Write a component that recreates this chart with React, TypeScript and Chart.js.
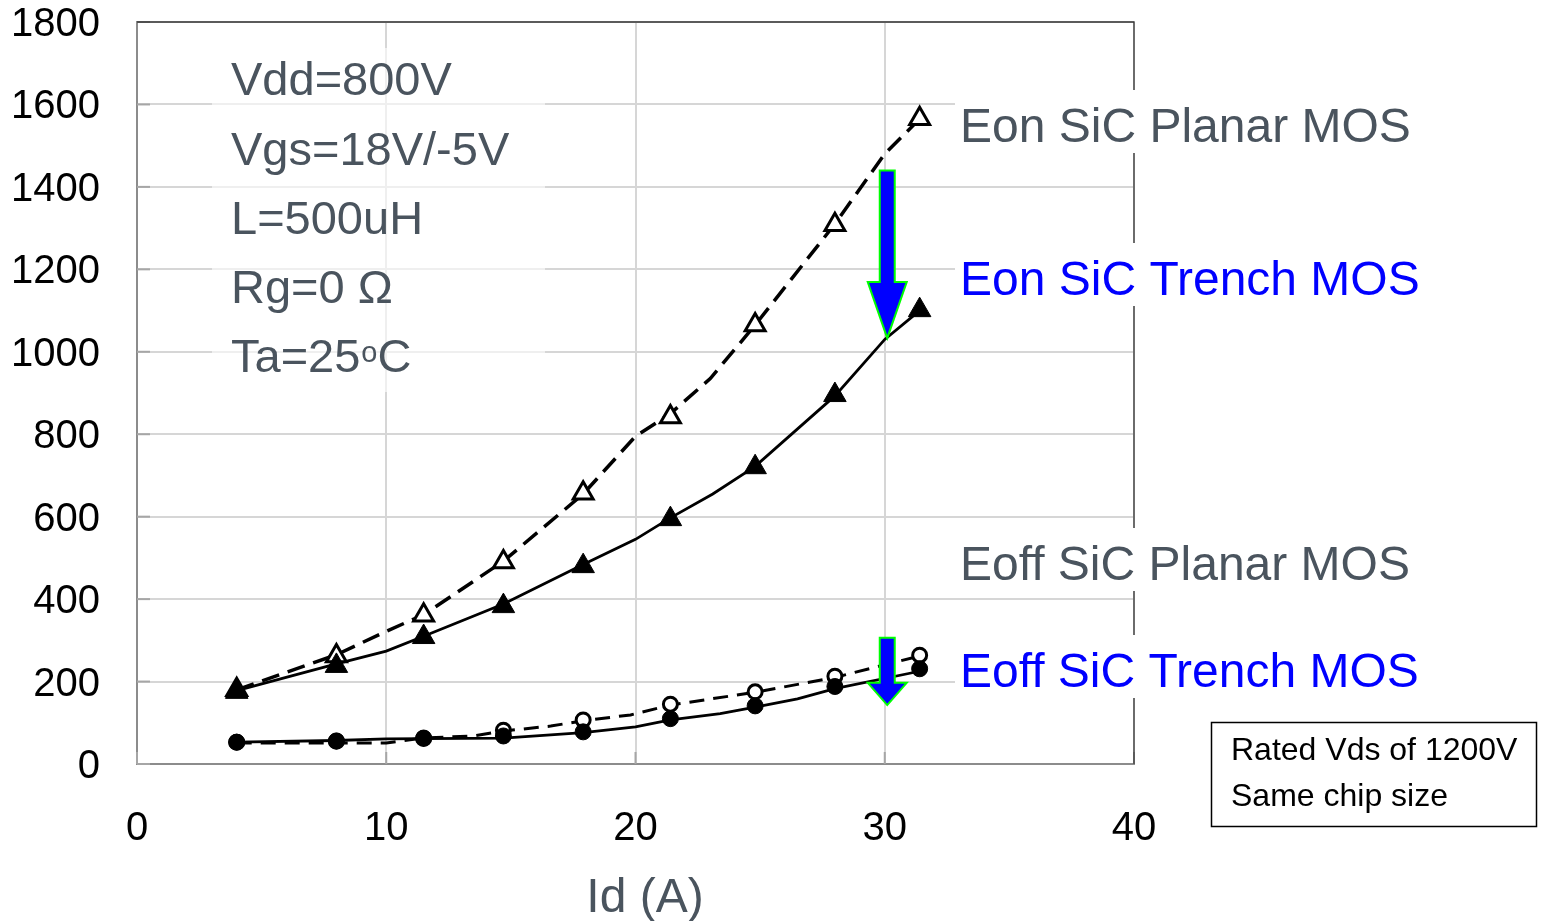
import React, { useEffect, useRef } from "react";
import { Chart, registerables } from "chart.js";

Chart.register(...registerables);

// ---------- data ----------
const xTicks = [0, 10, 20, 30, 40];
const yTicks = [0, 200, 400, 600, 800, 1000, 1200, 1400, 1600, 1800];

// measured points (markers)
const markerX = [4, 8, 11.5, 14.7, 17.9, 21.4, 24.8, 28, 31.4];
const eonPlanarPts = [180, 262, 361, 490, 657, 842, 1065, 1308, 1565];
const eonTrenchPts = [175, 238, 308, 383, 480, 594, 720, 895, 1101];
const eoffPlanarPts = [53, 55, 62, 82, 107, 145, 175, 213, 264];
const eoffTrenchPts = [53, 56, 63, 68, 78, 110, 141, 188, 231];

// trend lines
const eonPlanarLineX = [4, 8, 10, 11.5, 14.7, 17.9, 20, 21.4, 23, 24.8, 28, 30, 31.4];
const eonPlanarLineY = [180, 265, 322, 362, 492, 655, 795, 850, 935, 1065, 1310, 1480, 1565];
const eonTrenchLineX = [4, 8, 10, 11.5, 14.7, 17.9, 20, 21.4, 23.1, 24.8, 28, 30, 31.4];
const eonTrenchLineY = [178, 243, 274, 310, 388, 484, 545, 597, 655, 722, 893, 1030, 1100];
const eoffPlanarLineX = [4, 10, 11.5, 13.5, 14.7, 16.6, 17.9, 19.8, 21.4, 24.8, 28, 31.4];
const eoffPlanarLineY = [51, 51, 63, 68, 80, 92, 105, 119, 143, 174, 210, 262];
const eoffTrenchLineX = [4, 8, 10, 14.7, 17.9, 20, 21.4, 23.4, 24.8, 26.5, 28, 31.4];
const eoffTrenchLineY = [53, 57, 61, 63, 76, 90, 107, 122, 138, 158, 183, 225];

const conditions = ["Vdd=800V", "Vgs=18V/-5V", "L=500uH", "Rg=0 Ω"];
const tempLabel = ["Ta=25", "o", "C"];
const seriesLabels = [
  "Eon SiC Planar MOS",
  "Eon SiC Trench MOS",
  "Eoff SiC Planar MOS",
  "Eoff SiC Trench MOS",
];
const noteLines = ["Rated Vds of 1200V", "Same chip size"];
const xTitle = "Id (A)";

// arrows (data coordinates: x, top, neck, tip)
const bigArrow = [30.1, 1440, 1169, 1033];
const smallArrow = [30.1, 306, 197, 143];

const FONT = "'Liberation Sans', Arial, Helvetica, sans-serif";
const GRAY = "#4a545e";
const BLUE = "#0000ff";

const zip = (xs: number[], ys: number[]) => xs.map((x, i) => ({ x, y: ys[i] }));

const annotPlugin = {
  id: "annot",
  beforeDatasetsDraw(chart: any) {
    const { ctx, chartArea: ca, scales } = chart;
    ctx.save();
    // translucent box behind condition text
    ctx.fillStyle = "rgba(255,255,255,0.6)";
    ctx.fillRect(212, 48, 333, 344);
    // inner tick marks
    ctx.strokeStyle = "#a6a6a6";
    ctx.lineWidth = 2;
    xTicks.forEach((v) => {
      const px = scales.x.getPixelForValue(v);
      ctx.beginPath();
      ctx.moveTo(px, ca.bottom);
      ctx.lineTo(px, ca.bottom - 12);
      ctx.stroke();
    });
    yTicks.forEach((v) => {
      const py = scales.y.getPixelForValue(v);
      ctx.beginPath();
      ctx.moveTo(ca.left, py);
      ctx.lineTo(ca.left + 13, py);
      ctx.stroke();
    });
    // top / right border
    ctx.strokeStyle = "#333";
    ctx.lineWidth = 1.3;
    ctx.beginPath();
    ctx.moveTo(ca.left, ca.top);
    ctx.lineTo(ca.right, ca.top);
    ctx.lineTo(ca.right, ca.bottom);
    ctx.stroke();
    ctx.restore();
  },
  afterDatasetsDraw(chart: any) {
    const { ctx, scales } = chart;
    const xs = scales.x;
    const ys = scales.y;
    ctx.save();

    // arrows
    const drawArrow = (a: number[]) => {
      const cx = xs.getPixelForValue(a[0]);
      const t = ys.getPixelForValue(a[1]);
      const n = ys.getPixelForValue(a[2]);
      const tip = ys.getPixelForValue(a[3]);
      ctx.beginPath();
      ctx.moveTo(cx - 7.5, t);
      ctx.lineTo(cx + 7.5, t);
      ctx.lineTo(cx + 7.5, n);
      ctx.lineTo(cx + 19.5, n);
      ctx.lineTo(cx, tip);
      ctx.lineTo(cx - 19.5, n);
      ctx.lineTo(cx - 7.5, n);
      ctx.closePath();
      ctx.fillStyle = BLUE;
      ctx.fill();
      ctx.strokeStyle = "#00ff00";
      ctx.lineWidth = 2;
      ctx.stroke();
    };
    drawArrow(bigArrow);
    drawArrow(smallArrow);

    // condition text
    ctx.textBaseline = "alphabetic";
    ctx.textAlign = "left";
    ctx.fillStyle = GRAY;
    ctx.font = `47px ${FONT}`;
    const condBase = [95, 165, 234, 303];
    conditions.forEach((s, i) => ctx.fillText(s, 231, condBase[i]));
    let tx = 231;
    ctx.fillText(tempLabel[0], tx, 372);
    tx += ctx.measureText(tempLabel[0]).width;
    ctx.font = `29px ${FONT}`;
    ctx.fillText(tempLabel[1], tx + 1, 362);
    tx += ctx.measureText(tempLabel[1]).width + 1;
    ctx.font = `47px ${FONT}`;
    ctx.fillText(tempLabel[2], tx, 372);

    // series labels with white backgrounds
    const labBase = [142, 295, 580, 687];
    const labColor = [GRAY, BLUE, GRAY, BLUE];
    ctx.font = `48px ${FONT}`;
    seriesLabels.forEach((s, i) => {
      ctx.fillStyle = "#ffffff";
      ctx.fillRect(955, labBase[i] - 52, 470, 63);
      ctx.fillStyle = labColor[i];
      ctx.fillText(s, 960, labBase[i]);
    });

    // note box
    ctx.fillStyle = "#ffffff";
    ctx.fillRect(1211, 722, 326, 105);
    ctx.strokeStyle = "#000";
    ctx.lineWidth = 1.5;
    ctx.strokeRect(1211.5, 722.5, 325, 104);
    ctx.fillStyle = "#000";
    ctx.font = `32px ${FONT}`;
    ctx.fillText(noteLines[0], 1231, 760);
    ctx.fillText(noteLines[1], 1231, 806);

    // x title
    ctx.fillStyle = GRAY;
    ctx.font = `48px ${FONT}`;
    ctx.textAlign = "center";
    ctx.fillText(xTitle, 645, 912);

    ctx.restore();
  },
};

export default function App() {
  const ref = useRef<HTMLCanvasElement | null>(null);

  useEffect(() => {
    document.body.style.margin = "0";
    document.body.style.overflow = "hidden";
    const canvas = ref.current;
    if (!canvas) return;

    const lineDs = (label: string, xsArr: number[], ysArr: number[], dashed: boolean, dash: number[], w: number) => ({
      label,
      type: "line" as const,
      data: zip(xsArr, ysArr),
      showLine: true,
      borderColor: "#000",
      borderWidth: w,
      borderDash: dashed ? dash : [],
      pointRadius: 0,
      tension: 0,
      fill: false,
      order: 3,
    });

    const markDs = (label: string, ysArr: number[], style: string, filled: boolean, r: number, order: number) => ({
      label,
      type: "line" as const,
      data: zip(markerX, ysArr),
      showLine: false,
      pointStyle: style,
      pointRadius: r,
      pointBackgroundColor: filled ? "#000" : "#fff",
      pointBorderColor: "#000",
      pointBorderWidth: filled ? 1 : 3,
      order,
    });

    const chart = new Chart(canvas, {
      type: "line",
      data: {
        datasets: [
          markDs("Eon SiC Trench MOS", eonTrenchPts, "triangle", true, 13, 0),
          markDs("Eoff SiC Trench MOS", eoffTrenchPts, "circle", true, 8, 0),
          markDs("Eon SiC Planar MOS", eonPlanarPts, "triangle", false, 11.5, 1),
          markDs("Eoff SiC Planar MOS", eoffPlanarPts, "circle", false, 7, 1),
          lineDs("Eon Planar trend", eonPlanarLineX, eonPlanarLineY, true, [18, 9], 3.5),
          lineDs("Eon Trench trend", eonTrenchLineX, eonTrenchLineY, false, [], 2.8),
          lineDs("Eoff Planar trend", eoffPlanarLineX, eoffPlanarLineY, true, [15, 9], 3),
          lineDs("Eoff Trench trend", eoffTrenchLineX, eoffTrenchLineY, false, [], 2.8),
        ] as any,
      },
      options: {
        responsive: false,
        animation: false,
        layout: { padding: { top: 22, right: 409, left: 0, bottom: 0 } },
        plugins: {
          legend: { display: false },
          tooltip: { enabled: false },
          title: { display: false },
        },
        scales: {
          x: {
            type: "linear",
            min: 0,
            max: 40,
            afterBuildTicks: (s: any) => {
              s.ticks = xTicks.map((v) => ({ value: v }));
            },
            afterFit: (s: any) => {
              s.height = 157;
              s.paddingLeft = 0;
              s.paddingRight = 0;
              s.paddingTop = 0;
              s.paddingBottom = 0;
            },
            ticks: {
              color: "#000",
              font: { family: FONT, size: 40, lineHeight: 1 },
              padding: 45,
              maxRotation: 0,
              callback: (v: any) => String(v),
            },
            grid: { color: "#d6d6d6", lineWidth: 2, drawTicks: false },
            border: { display: true, color: "#8c8c8c", width: 2 },
          },
          y: {
            type: "linear",
            min: 0,
            max: 1800,
            afterBuildTicks: (s: any) => {
              s.ticks = yTicks.map((v) => ({ value: v }));
            },
            afterFit: (s: any) => {
              s.width = 137;
              s.paddingLeft = 0;
              s.paddingRight = 0;
              s.paddingTop = 0;
              s.paddingBottom = 0;
            },
            ticks: {
              color: "#000",
              font: { family: FONT, size: 40, lineHeight: 1 },
              padding: 37,
              labelOffset: 3,
              callback: (v: any) => String(v),
            },
            grid: { color: "#d6d6d6", lineWidth: 2, drawTicks: false },
            border: { display: true, color: "#8c8c8c", width: 2 },
          },
        },
      } as any,
      plugins: [annotPlugin],
    });

    return () => chart.destroy();
  }, []);

  return (
    <div style={{ width: 1543, height: 921, background: "#fff" }}>
      <canvas ref={ref} width={1543} height={921} style={{ display: "block" }} />
    </div>
  );
}
